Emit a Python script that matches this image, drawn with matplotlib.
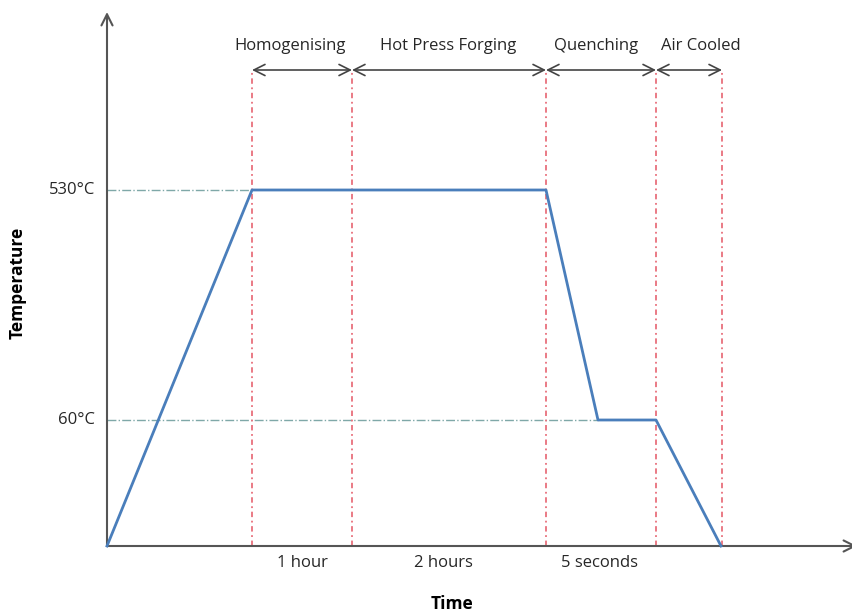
import numpy as np
import matplotlib.pyplot as plt

# schematic heat-treatment profile (x = schematic time position, y = temperature)
time_pts = [0, 145, 439, 491, 549, 614]
temp_pts = [0, 530, 530, 60, 60, 0]
stage_edges = [145, 245, 439, 549, 615]
stage_names = ['Homogenising', 'Hot Press Forging', 'Quenching', 'Air Cooled']
durations = ['1 hour', '2 hours', '5 seconds']
levels = [530, 60]
level_labels = ['530°C', '60°C']

# temperature axis is not to scale: piecewise mapping to drawing height
t_ref = [0, 60, 530, 1000]
h_ref = [0, 126, 356, 586]


def fwd(t):
    return np.interp(t, t_ref, h_ref)


fig = plt.figure(figsize=(8.53, 6.16), dpi=100)
ax = fig.add_axes([0, 0, 1, 1])
ax.set_xlim(-107, 746)
ax.set_ylim(-70, 546)
ax.axis('off')

temp_h = fwd(np.array(temp_pts))
top_h = 476  # height of stage arrows

# axes with arrowheads
axcol = '#555555'
ax.annotate('', xy=(0, 534), xytext=(0, 0), annotation_clip=False,
            arrowprops=dict(arrowstyle='->', color=axcol, lw=1.5, mutation_scale=20, shrinkA=0, shrinkB=0))
ax.annotate('', xy=(750, 0), xytext=(0, 0), annotation_clip=False,
            arrowprops=dict(arrowstyle='->', color=axcol, lw=1.5, mutation_scale=20, shrinkA=0, shrinkB=0))

# level guide lines
for lv, x_end in zip(levels, [time_pts[1], time_pts[3]]):
    ax.plot([0, x_end], [fwd(lv), fwd(lv)], color='#7fa8a8', lw=1.0, ls='-.', zorder=1)

# stage boundaries
for xe in stage_edges:
    ax.plot([xe, xe], [0, top_h], color='#e8707c', lw=1.3, ls=(0, (3, 2, 1, 2)), zorder=1)

# profile
ax.plot(time_pts, temp_h, color='#4a7ebb', lw=2.0, zorder=3)

# stage arrows and names
for i, name in enumerate(stage_names):
    x0, x1 = stage_edges[i], stage_edges[i + 1]
    ax.annotate('', xy=(x1, top_h), xytext=(x0, top_h),
                arrowprops=dict(arrowstyle='<->', color='#444444', lw=1.2, mutation_scale=20,
                                shrinkA=0, shrinkB=0))
name_x = [183, 341, 489, 594]
txt = dict(fontsize=12, family='Open Sans', color='#262626')
for name, nx in zip(stage_names, name_x):
    ax.text(nx, 500, name, ha='center', va='center', **txt)

dur_x = [195, 336, 493]
for d, dx in zip(durations, dur_x):
    ax.text(dx, -17, d, ha='center', va='center', **txt)

for lv, lab in zip(levels, level_labels):
    ax.text(-12, fwd(lv), lab, ha='right', va='center', **txt)

ax.text(345, -58, 'Time', ha='center', va='center', fontsize=12.5, fontweight='bold', family='Open Sans')
ax.text(-89, 263, 'Temperature', ha='center', va='center', rotation=90, fontsize=12.5,
        fontweight='bold', family='Open Sans')

fig.savefig('out.png', dpi=100)
